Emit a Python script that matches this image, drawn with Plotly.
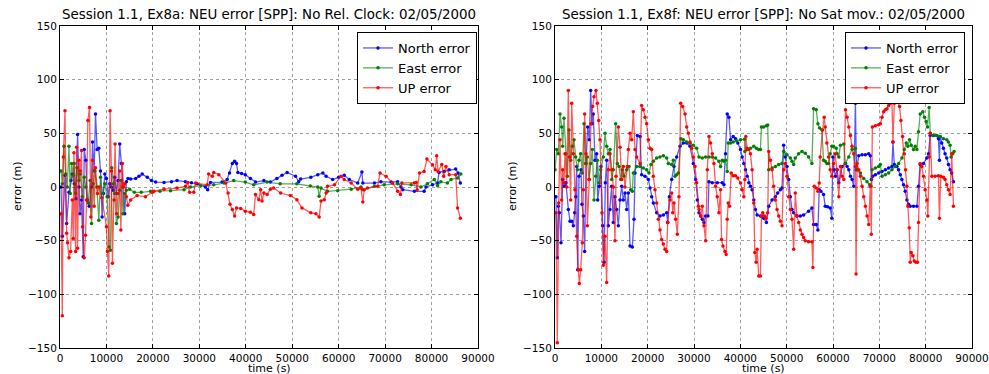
import plotly.graph_objects as go

# ---------------- data (time s, error m) ----------------
# Left panel: Ex8a, No Rel. Clock
left_north = [
    (214, 0), (500, -46), (1071, 11), (1429, -34), (1929, -5), (2357, 6), (2643, 12), (3071, 3),
    (3429, -11), (3786, 49), (4071, 0), (4286, -25), (4643, -12), (5000, -65), (5214, 35), (5571, 25),
    (5857, -12), (6286, -18), (6786, 0), (7000, 42), (7357, 15), (7643, 68), (8000, 35), (8357, 36),
    (8714, 15), (9071, -28), (9357, -6), (9643, 12), (10000, 8), (10357, -9), (10714, 3), (11071, 0),
    (11429, -3), (11786, 9), (12143, -6), (12500, 6), (12857, 40), (13214, 22), (13571, 0), (13929, -25),
    (14286, 5), (14643, 8), (15200, 7.4), (16300, 8), (17000, 10), (17700, 12), (18800, 9), (19700, 6),
    (20600, 4.6), (22400, 4.3), (24000, 5), (25200, 6), (27000, 5), (28300, 4), (29500, 3), (31300, 0),
    (31800, -2.5), (32400, 4.3), (34900, 4.6), (36000, 7), (36500, 13), (37100, 22), (37600, 24),
    (38000, 22), (38300, 13.6), (39100, 12.5), (39900, 11.5), (41000, 8), (42100, 4.6), (43900, 6),
    (45300, 4.6), (46700, 8), (47800, 11), (48900, 13.6), (50700, 10), (51400, 5), (51800, 7.4),
    (54000, 9), (55500, 11.5), (56600, 13), (57300, 10), (58700, 7), (60000, 9), (61200, 11), (62300, 7),
    (64100, 3.7), (65000, 14), (65200, 3.7), (67700, 3.7), (69100, 5), (71300, 4.6), (72700, 5),
    (73400, 0), (73800, -2.5), (76300, -4), (78400, -4), (78800, 0), (80200, 2), (81300, 3.7),
    (81600, 13.6), (82700, 14.5), (83800, 16), (85200, 16.7), (85700, 13), (86200, 3.7),
]
left_east = [
    (214, 15), (500, 3), (857, 38), (1214, 12), (1571, 0), (1929, 38), (2214, -6), (2500, 22),
    (2857, 11), (3071, 22), (3357, -6), (3643, 18), (4071, 6), (4357, 12), (4786, -9), (5214, 9),
    (5571, 0), (6071, -15), (6500, 6), (6786, -34), (7143, 3), (7500, 15), (7929, 0), (8357, -31),
    (8714, 9), (9143, -6), (9643, 3), (10143, -9), (10571, -56), (10857, -59), (11143, 18), (11500, 3),
    (11786, -6), (12143, -34), (12500, -28), (12857, -3), (13214, 6), (13571, -25), (13929, -6),
    (14286, -3), (15000, -2), (16000, -5), (17500, -5), (19500, -4), (21500, -4), (23800, -3.4),
    (26700, -2.5), (28100, 0), (30300, 1.2), (33100, 2), (35300, 3.7), (37400, 6), (39900, 4.6),
    (41700, 2), (44600, 4.6), (47400, 3), (51000, 3), (53900, 1), (55500, 0), (55800, -8.7),
    (56200, -1), (57600, -4), (59800, -3.4), (62700, -2), (64800, 0), (65200, -2.5), (67700, 0.6),
    (69800, 2), (72700, 3), (75600, 2), (77700, 0), (79100, 3), (80600, 7), (81300, 1.2), (82000, 5),
    (83400, 3.7), (84200, 7), (85600, 8.4), (86300, 12),
]
left_up = [
    (214, -25), (500, -120), (714, 28), (1071, 71), (1429, -43), (1643, -52), (1929, -66), (2286, -60),
    (2643, -12), (2857, -48), (3000, 32), (3357, -60), (3571, 37), (3786, -57), (4071, 25), (4357, 15),
    (4643, 34), (4857, -37), (5214, -66), (5500, -45), (5714, -12), (6000, 62), (6357, 74), (6643, -28),
    (7000, 25), (7357, -18), (7643, 18), (8071, -6), (8429, 0), (9000, -10), (10000, -37), (10214, -60),
    (10500, -83), (10786, 71), (11071, 15), (11286, -71), (11643, -12), (11857, 40), (12214, -25),
    (12500, -6), (12857, 15), (13100, -40), (13429, 22), (13643, 0), (13929, 3), (14286, -9),
    (14600, -17), (15200, -12), (16600, -8), (18400, -9), (19900, -5), (20200, -4), (22400, -2),
    (25200, -1), (27000, 0.6), (27500, 4.3), (27900, -5), (28800, -5), (29200, 3.7), (31700, 2),
    (32000, 12), (32800, 10), (33100, 13.6), (34200, 11.5), (35700, 3.7), (36200, -5.6), (36600, -16),
    (37100, -21), (37600, -27), (38000, -19.5), (38900, -20), (39900, -22.6), (41000, -23.5),
    (41700, -25.7), (42100, -7), (42800, -11.8), (43200, -2.5), (43500, -13), (43900, -5.6),
    (44600, -7), (45300, -2), (46000, -1), (47500, -5.6), (49600, -8), (51000, -11.8), (52100, -19.5),
    (54000, -24), (55100, -25), (55800, -28), (56200, -13), (56900, -11.8), (57300, -5.6), (57600, 0.6),
    (59100, 2), (60500, 10), (61200, 7), (62700, 3.7), (64100, -2), (64800, -1), (65200, -14),
    (65500, -2.5), (66200, -1), (68400, 0.6), (68900, 13), (70200, 10), (71600, 3.7), (72700, -4),
    (73300, -7), (73600, 3.7), (76300, 3.7), (76700, 4.3), (76900, -2.5), (77400, 13), (78400, 14.5),
    (79000, 26), (80200, 20.7), (80800, 16), (81100, 29), (81400, 14.5), (82200, 21), (82600, 10),
    (83100, 19), (83800, 11.5), (85200, 11.5), (85600, -19.5), (86200, -29),
]

# Right panel: Ex8f, No Sat mov.
right_north = [
    (200, -9), (500, -66), (720, -18), (940, -24), (1300, -52), (1650, 7), (2010, 0.6), (2370, 4),
    (2880, -21), (3240, -32), (3600, -32), (3960, -36), (4240, -24), (4460, -9), (4680, 19), (4890, -77),
    (5180, 10), (5610, 16), (5830, -16), (6120, -27), (6400, -60), (6690, 22), (7050, 56), (7410, 44),
    (7700, 90), (7990, 59), (8270, 68), (8630, 25), (8990, 31), (9210, -12), (9570, 0.6), (9930, 19),
    (10290, -36), (10580, -70), (10860, 4), (11150, 25), (11510, -36), (11870, -21), (12230, 0.6),
    (12590, -33), (12950, -9), (13310, -21), (13670, -36), (14030, -12), (14390, 0.6), (14750, -12),
    (15110, -5.5), (15470, -21), (15830, -5.5), (16190, -55), (16690, -56), (17050, -30), (17270, 13),
    (17770, 48), (18350, 47), (18700, 11.5), (19420, 10), (20140, 7), (20500, -1), (20860, -9),
    (21220, -15), (21940, -24), (22660, -27), (23380, -26), (24100, -24), (24320, -33), (24680, -9),
    (25180, 7), (25680, 19), (26260, 28), (26980, 38), (27700, 41), (28420, 41), (29140, 38),
    (29860, 22), (30360, 7), (30720, -12), (31080, -24), (31430, -27), (31790, -30), (32150, -33),
    (32510, -27), (33010, -27), (33230, 5), (33940, 4), (35020, 4), (36090, 4), (36450, 2), (36810, 31),
    (37170, 68), (37530, 65), (37890, 44), (38460, 47), (38960, 45), (39460, 41), (40040, 35),
    (40390, 28), (40750, 22), (41110, 16), (41470, 10), (41830, 4), (42190, 0.6), (42540, -2.5),
    (42900, -12), (43260, -21), (43620, -26), (44340, -27), (45050, -29), (45630, -33), (46130, -18),
    (46850, -12), (47560, -9), (48060, -5.5), (48640, -2.5), (49000, -1), (49350, 39), (49710, 28),
    (50070, 19), (50430, 7), (50790, -9), (51150, -21), (51510, -24), (52220, -27), (52940, -27),
    (53660, -26), (54730, -22.5), (55450, -19.5), (55810, -35), (56380, -35), (56740, -40), (57030, -2.5),
    (57380, -4), (57960, -7), (58320, -18), (58820, -18.5), (59390, -19.5), (59750, -29), (59960, 28),
    (60250, 16), (60540, 10), (60900, 16), (61250, 4), (61970, 19), (62690, 22), (63050, 19), (63410, 16),
    (63760, 10), (64120, 7), (64480, 0.6), (64840, 78), (65050, 16), (65560, 29), (66270, 30),
    (66990, 30), (67700, 31), (68060, 29), (68280, 7), (68560, 10), (69140, 11.5), (69860, 13),
    (70570, 14.5), (71290, 16), (72010, 17.6), (72720, 19), (72940, 42), (73230, 21), (73800, 19),
    (74160, 16), (74520, 11.5), (74870, 7), (75230, 2), (75590, -4), (75950, -12), (76310, -16),
    (76670, -18), (77380, -18), (78100, -18), (78460, 0.6), (78820, 21), (79530, 22), (80250, 27),
    (80610, 31), (80970, 48), (81680, 48), (82400, 48), (82760, 45), (82970, 25), (83110, 47),
    (83470, 41), (83830, 36), (84190, 31), (84550, 27), (84910, 21), (85270, 16), (85630, 13), (85990, 5),
]
right_east = [
    (0, 16), (360, 35), (720, 31), (1080, 68), (1440, 56), (1650, 38), (1940, 64), (2300, 31),
    (2660, 10), (3020, 53), (3380, 25), (3740, 38), (4100, 44), (4460, 28), (4820, 16), (5180, 25),
    (5540, 31), (5900, 13), (6260, 59), (6620, 22), (6980, 28), (7340, 7), (7700, 22), (8060, 35),
    (8420, -12), (8780, 10), (9140, 25), (9500, 4), (9860, 16), (10430, 28), (10790, 50), (11150, 38),
    (11510, 31), (11870, 35), (12230, 7), (12590, 16), (13090, 59), (13450, 22), (13810, 19),
    (14170, 7), (14530, 16), (14890, 10), (15470, 16), (15970, 19), (16330, -2.5), (16690, -4),
    (16900, 13), (17630, 19), (18350, 19), (19060, 17.6), (19780, 16), (20280, 13), (20720, 21),
    (21220, 24), (21940, 27), (22660, 28), (23380, 29), (24100, 27), (24460, 22), (25180, 21),
    (25540, 25), (25900, 10), (26260, 11.5), (26620, 13), (27190, 45), (27700, 44), (28420, 42),
    (29140, 41), (29860, 39), (30580, 36), (31080, 28), (31790, 27), (32510, 28), (33230, 28),
    (33940, 28), (34660, 27), (35380, 24), (35730, 19), (36090, 25), (36450, 24), (36810, 25),
    (37170, 14.5), (37380, 41), (37890, 41), (38460, 42), (39180, 43), (40040, 44), (40900, 44.5),
    (40970, 33), (41470, 35), (42190, 36), (42900, 38), (43480, 36), (43980, 35), (44340, 35),
    (44550, 56), (45050, 56), (45630, 57), (45910, 57.7), (46130, 16), (46850, 17.6), (47560, 19),
    (48280, 21), (49000, 22), (49350, 33), (50070, 30), (50790, 27), (51150, 24), (51510, 21),
    (51860, 27), (52580, 31), (53300, 33), (54010, 31.5), (54730, 28), (55450, 22), (55810, 73),
    (56380, 72), (56740, 59), (57100, 55), (57600, 53), (57960, 25), (58320, 24), (58670, 22),
    (59030, 22), (59390, 31), (59750, 38), (60110, 38), (60680, 36), (60900, 31), (61250, 28),
    (61610, 39), (62330, 40), (62690, 22), (63410, 28), (64120, 35), (64840, 36), (65200, 16),
    (65910, 13), (66630, 8), (67350, 5), (67920, 2), (68200, 0.6), (68420, 16), (69140, 17.6),
    (69860, 19), (70220, 21), (70570, 10), (71290, 11.5), (72010, 13), (72720, 16), (73440, 19),
    (74160, 22), (74870, 27), (75380, 35), (75810, 41), (76160, 38), (76520, 44), (76880, 39),
    (77380, 35), (77740, 38), (78100, 35), (78460, 51.5), (78820, 68), (79390, 70), (79750, 65),
    (80110, 61), (80400, 56), (80750, 74), (81000, 50), (81680, 48), (82400, 48), (83110, 47),
    (83830, 45), (84550, 44), (84910, 42), (85270, 39), (85490, 28), (85850, 31), (86130, 33),
]
right_up = [
    (200, -24), (500, -145), (800, -15), (1080, 44), (1440, -12), (1650, 16), (1940, 4), (2160, 31),
    (2520, 0), (2880, 90), (3090, 28), (3380, -12), (3600, 78), (3960, 31), (4300, -2.5), (4680, -46),
    (5040, -77), (5250, -90), (5540, -77), (5900, -52), (6120, -2.5), (6400, 68), (6690, 31),
    (6980, -36), (7410, 7), (7770, 59), (8130, 75), (8420, 84), (8850, 90), (9140, 78), (9420, 62),
    (9710, 44), (10140, -24), (10430, -73), (10790, -46), (11150, -89), (11510, 16), (11870, 31),
    (12230, 16), (12590, 0), (12950, -50), (13170, 10), (13670, 56), (14030, 37), (14390, 7),
    (14750, 19), (15100, 0), (15600, 19), (15830, 35), (16190, 50), (16550, 44), (16900, 70),
    (17270, 35), (17630, 28), (18350, 22), (18700, 76), (19060, 72), (19420, 65), (19780, 59),
    (20140, 44), (20500, 36), (20860, 35), (21220, 10), (21580, -2.5), (21940, -15), (22300, -30),
    (22660, -40), (23020, -49), (23380, -53), (23740, -58), (24100, -60), (24320, -33), (24820, -12),
    (25180, -5.5), (25400, -24), (25680, -15), (26040, -30), (26400, -44), (26760, -9), (27120, 78),
    (27550, 75), (28060, 68), (28420, 56), (28780, 50), (29140, 42), (29500, 36), (29860, 28),
    (30220, 19), (30580, 4), (30940, -18), (31080, -21), (31430, -27), (31790, -18), (32150, -36),
    (32510, -50), (32870, 16), (33230, 47), (33580, 41), (33940, 31), (34300, 22), (34660, 0.6),
    (35020, -9), (35380, -24), (35730, -2.5), (35950, -49), (36240, -55), (36670, -60), (36950, -63),
    (37170, -30), (37380, -15), (37670, -18), (38030, 13), (38460, 10.5), (38960, 10.5), (39460, 8.3),
    (40040, 3.7), (40390, -2.5), (40750, -9), (40970, 7), (41180, 47), (41470, 36), (41830, 35),
    (42190, 31), (42540, 16), (42900, -15), (43120, -61), (43410, -70), (43620, -58), (43980, -83),
    (44340, -83), (44550, -27), (44840, -24), (45200, -27), (45560, -29), (45910, -24), (46130, 33),
    (46490, 25), (46850, 16), (47200, 0.6), (47560, -12), (47920, -21), (48280, -27), (48640, -32),
    (49000, -36), (49350, 16), (49710, 22), (50070, 10), (50430, -9), (50790, -21), (51150, -30),
    (51510, -58), (51860, -5.5), (52220, -27), (52580, -33), (52940, -40), (53300, -44), (53660, -47),
    (54010, -50), (54730, -51), (55450, -51), (55660, -75), (55950, 0.6), (56380, -1), (56740, -4),
    (57030, 3.7), (57240, 28), (57740, 53), (58100, 65), (58320, 56), (58670, 41), (59030, 28),
    (59390, 16), (59750, 10), (60110, 22), (60470, 31), (60830, 16), (61250, -9), (61610, 19),
    (61970, 10), (62330, 7), (62690, 72), (63050, 65), (63410, 56), (63760, 48), (64120, 38),
    (64480, 31), (64840, 19), (64980, -81), (65200, 22), (65560, 16), (65910, 10), (66270, 0.6),
    (66630, -9), (66990, -18), (67350, -27), (67700, -35), (68060, 0.6), (68280, -44), (68490, 56),
    (69140, 57), (69860, 58), (70220, 59), (70570, 65), (70930, 70), (71290, 72), (71650, 73),
    (72010, 76), (72370, 78), (72720, 79), (72940, 42), (73230, 78), (73660, 80), (74010, 79),
    (74370, 75), (74660, 62), (75020, 47), (75380, 31), (75660, 16), (75950, 0.6), (76160, -18),
    (76450, -38), (76670, -70), (76880, -61), (77240, -64), (77530, -69), (77890, -70), (78240, -70),
    (78460, -33), (78820, 22), (79180, 19), (79530, 10), (79890, -2.5), (80250, -12), (80470, -27),
    (80750, 28), (80970, 50), (81330, 10), (82040, 10), (82760, 10.5), (82970, -29), (83260, 10),
    (83830, 9), (84190, 7), (84550, 2), (84910, -2.5), (85270, -7), (85630, 31), (85990, -18),
]

series_names = ["North error", "East error", "UP error"]
series_colors = ["#0000ff", "#008000", "#ff0000"]
line_colors = ["rgba(0,0,255,0.65)", "rgba(0,128,0,0.65)", "rgba(255,0,0,0.65)"]
titles = [
    "Session 1.1, Ex8a: NEU error [SPP]: No Rel. Clock: 02/05/2000",
    "Session 1.1, Ex8f: NEU error [SPP]: No Sat mov.: 02/05/2000",
]
x_ticks = [0, 10000, 20000, 30000, 40000, 50000, 60000, 70000, 80000, 90000]
y_ticks = [-150, -100, -50, 0, 50, 100, 150]

FONT = "DejaVu Sans, Liberation Sans, sans-serif"

fig = go.Figure()
panels = [
    ([left_north, left_east, left_up], "x", "y", "legend"),
    ([right_north, right_east, right_up], "x2", "y2", "legend2"),
]
for series, xa, ya, lg in panels:
    for data, name, mc, lc in zip(series, series_names, series_colors, line_colors):
        fig.add_trace(go.Scatter(
            x=[p[0] for p in data], y=[p[1] for p in data],
            mode="lines+markers", name=name, xaxis=xa, yaxis=ya, legend=lg,
            line=dict(color=lc, width=1.3),
            marker=dict(color=mc, size=3.5, line=dict(width=0)),
        ))

axis_common = dict(
    showline=True, linecolor="black", linewidth=1, mirror="allticks",
    ticks="inside", ticklen=4, tickcolor="black", tickwidth=1,
    showgrid=True, gridcolor="#a0a0a0", griddash="dot", gridwidth=1,
    zeroline=False, automargin=False,
    tickfont=dict(family=FONT, size=10.5, color="black"),
)
L0, L1 = 0.0, 418 / 912
R0, R1 = 495 / 912, 1.0
fig.update_layout(
    width=989, height=374,
    margin=dict(l=60, r=17, t=26, b=26),
    paper_bgcolor="white", plot_bgcolor="white",
    font=dict(family=FONT, color="black"),
    xaxis=dict(domain=[L0, L1], range=[0, 90000], tickvals=x_ticks, tickformat="d",
               anchor="y", **axis_common),
    yaxis=dict(domain=[0, 1], range=[-150, 150], tickvals=y_ticks, anchor="x", **axis_common),
    xaxis2=dict(domain=[R0, R1], range=[0, 90000], tickvals=x_ticks, tickformat="d",
                anchor="y2", **axis_common),
    yaxis2=dict(domain=[0, 1], range=[-150, 150], tickvals=y_ticks, anchor="x2", **axis_common),
    legend=dict(x=417 / 912, y=1 - 6 / 322, xanchor="right", yanchor="top",
                bgcolor="white", bordercolor="black", borderwidth=1,
                font=dict(family=FONT, size=13), tracegroupgap=0, itemwidth=30),
    legend2=dict(x=905 / 912, y=1 - 6 / 322, xanchor="right", yanchor="top",
                 bgcolor="white", bordercolor="black", borderwidth=1,
                 font=dict(family=FONT, size=13), tracegroupgap=0, itemwidth=30),
    showlegend=True,
)

annos = []
for (d0, d1), title in zip([(L0, L1), (R0, R1)], titles):
    cx = (d0 + d1) / 2
    annos.append(dict(text=title, x=cx, y=1, xref="paper", yref="paper",
                      xanchor="center", yanchor="bottom", yshift=2, showarrow=False,
                      font=dict(family=FONT, size=13.4, color="black")))
    annos.append(dict(text="time (s)", x=cx, y=0, xref="paper", yref="paper",
                      xanchor="center", yanchor="middle", yshift=-20, showarrow=False,
                      font=dict(family=FONT, size=11, color="black")))
    annos.append(dict(text="error (m)", x=d0, y=0.5, xref="paper", yref="paper",
                      xanchor="center", yanchor="middle", xshift=-43, textangle=-90,
                      showarrow=False, font=dict(family=FONT, size=11, color="black")))
fig.update_layout(annotations=annos)

fig.write_html("out.html")
